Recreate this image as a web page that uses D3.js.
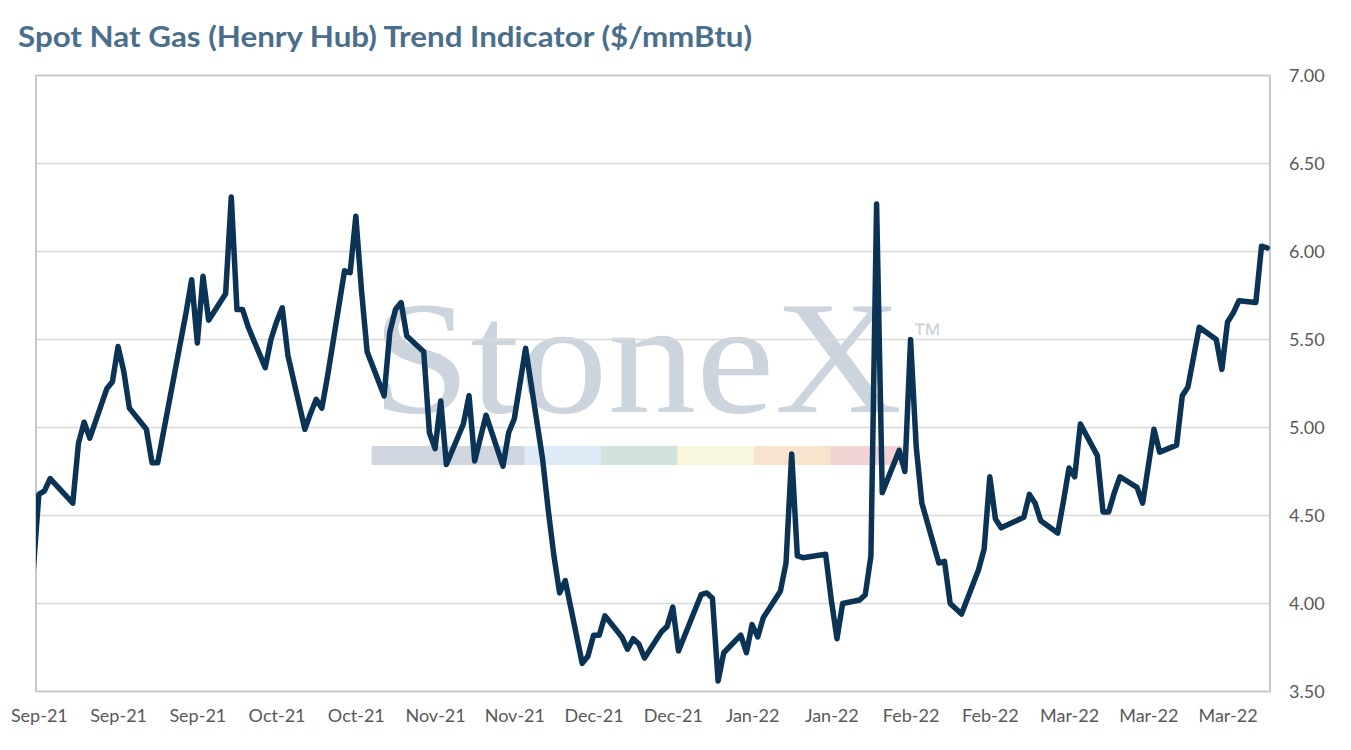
<!DOCTYPE html>
<html>
<head>
<meta charset="utf-8">
<script src="https://cdn.jsdelivr.net/npm/d3@7"></script>
<style>
  html, body { margin: 0; padding: 0; background: #fff; }
  svg { display: block; }
</style>
</head>
<body>
<svg id="chart"></svg>
<script>
// Henry Hub spot, business days
const dates = [
  '2021-08-31','2021-09-01','2021-09-02','2021-09-03','2021-09-07','2021-09-08','2021-09-09','2021-09-10',
  '2021-09-13','2021-09-14','2021-09-15','2021-09-16','2021-09-17','2021-09-20','2021-09-21','2021-09-22',
  '2021-09-23','2021-09-24','2021-09-27','2021-09-28','2021-09-29','2021-09-30','2021-10-01','2021-10-04',
  '2021-10-05','2021-10-06','2021-10-07','2021-10-08','2021-10-11','2021-10-12','2021-10-13','2021-10-14',
  '2021-10-15','2021-10-18','2021-10-19','2021-10-20','2021-10-21','2021-10-22','2021-10-25','2021-10-26',
  '2021-10-27','2021-10-28','2021-10-29','2021-11-01','2021-11-02','2021-11-03','2021-11-04','2021-11-05',
  '2021-11-08','2021-11-09','2021-11-10','2021-11-11','2021-11-12','2021-11-15','2021-11-16','2021-11-17',
  '2021-11-18','2021-11-19','2021-11-22','2021-11-23','2021-11-24','2021-11-26','2021-11-29','2021-11-30',
  '2021-12-01','2021-12-02','2021-12-03','2021-12-06','2021-12-07','2021-12-08','2021-12-09','2021-12-10',
  '2021-12-13','2021-12-14','2021-12-15','2021-12-16','2021-12-17','2021-12-20','2021-12-21','2021-12-22',
  '2021-12-23','2021-12-27','2021-12-28','2021-12-29','2021-12-30','2021-12-31','2022-01-03','2022-01-04',
  '2022-01-05','2022-01-06','2022-01-07','2022-01-10','2022-01-11','2022-01-12','2022-01-13','2022-01-14',
  '2022-01-18','2022-01-19','2022-01-20','2022-01-21','2022-01-24','2022-01-25','2022-01-26','2022-01-27',
  '2022-01-28','2022-01-31','2022-02-01','2022-02-02','2022-02-03','2022-02-04','2022-02-07','2022-02-08',
  '2022-02-09','2022-02-10','2022-02-11','2022-02-14','2022-02-15','2022-02-16','2022-02-17','2022-02-18',
  '2022-02-22','2022-02-23','2022-02-24','2022-02-25','2022-02-28','2022-03-01','2022-03-02','2022-03-03',
  '2022-03-04','2022-03-07','2022-03-08','2022-03-09','2022-03-10','2022-03-11','2022-03-14','2022-03-15',
  '2022-03-16','2022-03-17','2022-03-18','2022-03-21','2022-03-22','2022-03-23','2022-03-24','2022-03-25',
  '2022-03-28','2022-03-29','2022-03-30','2022-03-31','2022-04-01','2022-04-04','2022-04-05','2022-04-06'
];

const prices = [
  4.18, 4.62, 4.64, 4.71, 4.57, 4.91, 5.03, 4.94,
  5.22, 5.26, 5.46, 5.32, 5.11, 4.99, 4.80, 4.80,
  4.97, 5.14, 5.65, 5.84, 5.48, 5.86, 5.61, 5.76,
  6.31, 5.67, 5.67, 5.57, 5.34, 5.50, 5.60, 5.68,
  5.41, 4.99, 5.08, 5.16, 5.11, 5.29, 5.89, 5.88,
  6.20, 5.78, 5.43, 5.18, 5.54, 5.67, 5.71, 5.52,
  5.43, 4.97, 4.88, 5.15, 4.79, 5.02, 5.18, 4.81,
  4.94, 5.07, 4.78, 4.97, 5.05, 5.45, 4.82, 4.53,
  4.27, 4.06, 4.13, 3.66, 3.70, 3.82, 3.82, 3.93,
  3.81, 3.74, 3.80, 3.77, 3.69, 3.84, 3.87, 3.98,
  3.73, 4.05, 4.06, 4.03, 3.56, 3.72, 3.82, 3.72,
  3.88, 3.81, 3.92, 4.07, 4.23, 4.85, 4.27, 4.26,
  4.28, 4.02, 3.80, 4.00, 4.02, 4.05, 4.27, 6.27,
  4.63, 4.87, 4.75, 5.50, 4.89, 4.57, 4.23, 4.24,
  4.00, 3.97, 3.94, 4.19, 4.31, 4.72, 4.48, 4.43,
  4.49, 4.62, 4.57, 4.47, 4.40, 4.58, 4.77, 4.72,
  5.02, 4.84, 4.52, 4.52, 4.63, 4.72, 4.66, 4.57,
  4.78, 4.99, 4.86, 4.90, 5.18, 5.23, 5.40, 5.57,
  5.50, 5.33, 5.60, 5.65, 5.72, 5.71, 6.03, 6.02
];

// date-axis labels, every 14 days
const xTickDates = [
  '2021-09-01','2021-09-15','2021-09-29','2021-10-13','2021-10-27','2021-11-10','2021-11-24','2021-12-08',
  '2021-12-22','2022-01-05','2022-01-19','2022-02-02','2022-02-16','2022-03-02','2022-03-16','2022-03-30'
];
const yTicks = [3.5, 4.0, 4.5, 5.0, 5.5, 6.0, 6.5, 7.0];

const titleText = 'Spot Nat Gas (Henry Hub) Trend Indicator ($/mmBtu)';

const width = 1351;
const height = 750;
const plot = { left: 36, right: 1270, top: 75.5, bottom: 691.5 };

const parse = d3.timeParse('%Y-%m-%d');
const series = dates.map((d, i) => ({ date: parse(d), value: prices[i] }));

const svg = d3.select('#chart')
  .attr('width', width)
  .attr('height', height)
  .style('font-family', 'Lato, "Open Sans", sans-serif');

svg.append('rect').attr('width', width).attr('height', height).attr('fill', '#fff');

// Excel-like date axis: each day sits in the middle of its bucket
const x = d3.scaleTime()
  .domain([d3.timeHour.offset(parse('2021-09-01'), -12), d3.timeHour.offset(parse('2022-04-06'), 12)])
  .range([plot.left, plot.right]);

const y = d3.scaleLinear()
  .domain([3.5, 7.0])
  .range([plot.bottom, plot.top]);

// title
svg.append('text')
  .attr('x', 18)
  .attr('y', 47)
  .attr('fill', '#4a6e8b')
  .attr('font-size', 29)
  .attr('font-weight', 700)
  .attr('textLength', 734)
  .attr('lengthAdjust', 'spacingAndGlyphs')
  .text(titleText);

// watermark
const wm = svg.append('g').attr('class', 'watermark');
wm.append('text')
  .attr('x', 372)
  .attr('y', 412)
  .attr('font-family', '"Liberation Serif", "DejaVu Serif", serif')
  .attr('font-size', 160)
  .attr('fill', '#ccd4de')
  .attr('textLength', 530)
  .attr('lengthAdjust', 'spacingAndGlyphs')
  .text('StoneX');
wm.append('text')
  .attr('x', 912)
  .attr('y', 344)
  .attr('font-family', '"Liberation Sans", sans-serif')
  .attr('font-size', 30)
  .attr('fill', '#ccd4de')
  .text('™');

const bandColors = ['#cfd6e0', '#cfd6e0', '#deebf6', '#d3e3dc', '#f8f7dd', '#f8e4cc', '#f2d4d7'];
const bandX = d3.scaleBand().domain(d3.range(bandColors.length)).range([371.5, 907]);
wm.selectAll('rect.band')
  .data(bandColors)
  .join('rect')
  .attr('class', 'band')
  .attr('x', (d, i) => bandX(i))
  .attr('y', 446)
  .attr('width', bandX.bandwidth() + 0.5)
  .attr('height', 19)
  .attr('fill', d => d);

// gridlines
svg.append('g')
  .selectAll('line')
  .data(yTicks.slice(1, -1))
  .join('line')
  .attr('x1', plot.left)
  .attr('x2', plot.right)
  .attr('y1', d => y(d))
  .attr('y2', d => y(d))
  .attr('stroke', '#d9d9d9')
  .attr('stroke-width', 1.5);

// plot border
svg.append('rect')
  .attr('x', plot.left)
  .attr('y', plot.top)
  .attr('width', plot.right - plot.left)
  .attr('height', plot.bottom - plot.top)
  .attr('fill', 'none')
  .attr('stroke', '#c4c4c4')
  .attr('stroke-width', 1.8);

// right axis labels
const yAxis = d3.axisRight(y)
  .tickValues(yTicks)
  .tickFormat(d3.format('.2f'))
  .tickSize(0)
  .tickPadding(0);

svg.append('g')
  .attr('transform', `translate(${plot.right + 19},0)`)
  .call(yAxis)
  .call(g => g.select('.domain').remove())
  .call(g => g.selectAll('text')
    .attr('fill', '#595959')
    .attr('font-size', 18)
    .attr('font-family', 'Lato, sans-serif'));

// bottom axis labels
const xAxis = d3.axisBottom(x)
  .tickValues(xTickDates.map(parse))
  .tickFormat(d3.timeFormat('%b-%y'))
  .tickSize(0)
  .tickPadding(0);

svg.append('g')
  .attr('transform', `translate(0,${plot.bottom + 18})`)
  .call(xAxis)
  .call(g => g.select('.domain').remove())
  .call(g => g.selectAll('text')
    .attr('fill', '#595959')
    .attr('font-size', 18)
    .attr('font-family', 'Lato, sans-serif'));

// clip the line to the plot area
svg.append('clipPath')
  .attr('id', 'plot-clip')
  .append('rect')
  .attr('x', plot.left)
  .attr('y', plot.top - 10)
  .attr('width', plot.right - plot.left)
  .attr('height', plot.bottom - plot.top + 20);

const line = d3.line()
  .x(d => x(d.date))
  .y(d => y(d.value));

svg.append('path')
  .datum(series)
  .attr('clip-path', 'url(#plot-clip)')
  .attr('fill', 'none')
  .attr('stroke', '#0b3356')
  .attr('stroke-width', 5.5)
  .attr('stroke-linejoin', 'round')
  .attr('stroke-linecap', 'round')
  .attr('d', line);
</script>
</body>
</html>
